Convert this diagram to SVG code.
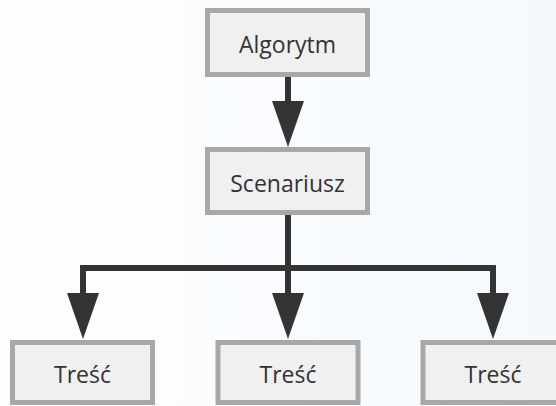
<svg xmlns="http://www.w3.org/2000/svg" width="556" height="406" viewBox="0 0 556 406">
  <defs>
    <linearGradient id="bg" x1="0" y1="0" x2="1" y2="0">
      <stop offset="0" stop-color="#fdfeff"/>
      <stop offset="1" stop-color="#f5f9fd"/>
    </linearGradient>
    <marker id="arrow" markerUnits="userSpaceOnUse" viewBox="0 -16 46 32" refX="0" refY="0" markerWidth="46" markerHeight="32" orient="auto">
      <path d="M0,-16 L46,0 L0,16 Z" fill="#333333"/>
    </marker>
    <style>
      .box { fill: #f0f0f0; stroke: #a8a8a8; stroke-width: 5; }
      .label { font-family: "Open Sans", "Liberation Sans", sans-serif; font-size: 23px; fill: #333333; text-anchor: middle; }
      .conn { fill: none; stroke: #333333; stroke-width: 6; stroke-linejoin: miter; stroke-linecap: butt; }
    </style>
  </defs>
  <rect x="0" y="0" width="556" height="406" fill="url(#bg)"/>

  <g id="connectors">
    <path class="conn" d="M288,77 V101" marker-end="url(#arrow)"/>
    <path class="conn" d="M288,215 V293" marker-end="url(#arrow)"/>
    <path class="conn" d="M288,268 H83 V293" marker-end="url(#arrow)"/>
    <path class="conn" d="M288,268 H493 V293" marker-end="url(#arrow)"/>
  </g>

  <g id="node-algorytm">
    <rect class="box" x="207.5" y="10.5" width="160" height="64"/>
    <text class="label" x="287.5" y="53">Algorytm</text>
  </g>
  <g id="node-scenariusz">
    <rect class="box" x="207.5" y="149.5" width="160" height="63"/>
    <text class="label" x="287.5" y="192">Scenariusz</text>
  </g>
  <g id="node-tresc-1">
    <rect class="box" x="12.5" y="342.5" width="140" height="60"/>
    <text class="label" x="82.5" y="383">Treść</text>
  </g>
  <g id="node-tresc-2">
    <rect class="box" x="218" y="342.5" width="140" height="60"/>
    <text class="label" x="288" y="383">Treść</text>
  </g>
  <g id="node-tresc-3">
    <rect class="box" x="423" y="342.5" width="140" height="60"/>
    <text class="label" x="493" y="383">Treść</text>
  </g>
</svg>
